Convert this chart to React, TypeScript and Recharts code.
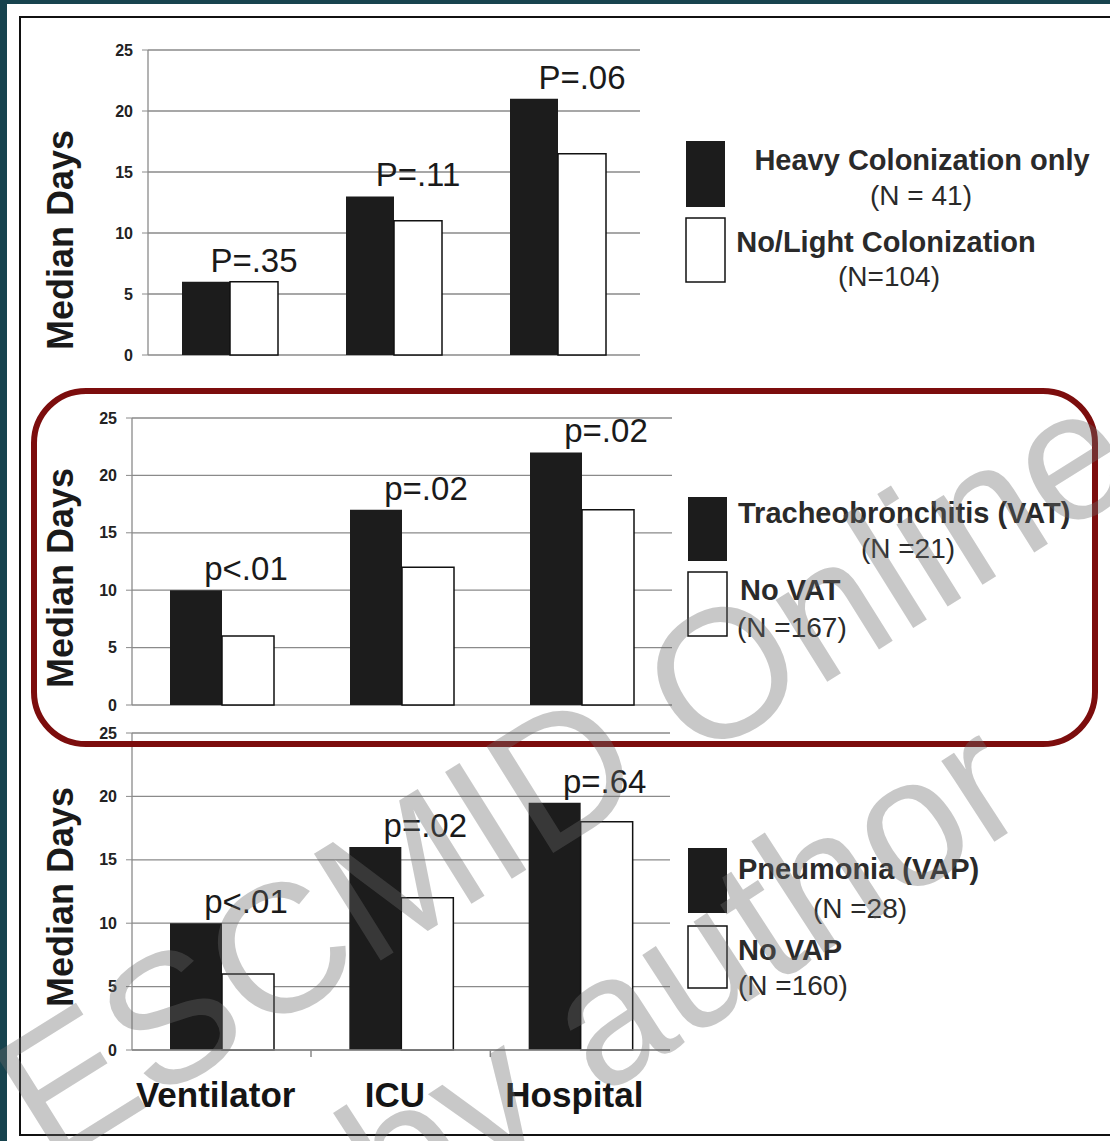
import React from 'react';
import { BarChart, Bar, XAxis, YAxis, CartesianGrid, LabelList } from 'recharts';

const categories = ['Ventilator', 'ICU', 'Hospital'];
const yTicks = [0, 5, 10, 15, 20, 25];

const colonHeavy = [6, 13, 21];
const colonLight = [6, 11, 16.5];
const colonP = ['P=.35', 'P=.11', 'P=.06'];

const vatYes = [10, 17, 22];
const vatNo = [6, 12, 17];
const vatP = ['p<.01', 'p=.02', 'p=.02'];

const vapYes = [10, 16, 19.5];
const vapNo = [6, 12, 18];
const vapP = ['p<.01', 'p=.02', 'p=.64'];

const FONT = "'Liberation Sans', Arial, Helvetica, sans-serif";
const GRID = '#8a8a8a';

const build = (a: number[], b: number[], p: string[]) =>
  categories.map((name, i) => ({ name, a: a[i], b: b[i], p: p[i] }));

const PLabel = (props: any) => {
  const { x, y, width, value } = props;
  return (
    <text
      x={Number(x) + Number(width) + 24}
      y={Number(y) - 10}
      textAnchor="middle"
      fontSize={33}
      fontFamily={FONT}
      fill="#1a1a1a"
    >
      {value}
    </text>
  );
};

const CategoryTick = (props: any) => {
  const { x, y, payload, index } = props;
  return (
    <g>
      {index > 0 && <line x1={x - 90} x2={x - 90} y1={y} y2={y + 7} stroke={GRID} strokeWidth={1.5} />}
      <text x={x - 6} y={y + 57} textAnchor="middle" fontSize={35} fontWeight="bold" fontFamily={FONT} fill="#151515">
        {payload.value}
      </text>
    </g>
  );
};

type PanelProps = {
  top: number;
  height: number;
  margin: { top: number; right: number; bottom: number; left: number };
  axisWidth: number;
  barSize: number;
  data: any[];
  showX?: boolean;
};

const Panel = ({ top, height, margin, axisWidth, barSize, data, showX }: PanelProps) => (
  <div style={{ position: 'absolute', left: 0, top, width: 1110, height }}>
    <BarChart width={1110} height={height} data={data} margin={margin} barGap={0}>
      <CartesianGrid vertical={false} stroke={GRID} strokeWidth={1.3} />
      {showX ? (
        <XAxis
          dataKey="name"
          height={60}
          axisLine={{ stroke: GRID, strokeWidth: 1.5 }}
          tickLine={false}
          tickSize={0}
          tickMargin={0}
          interval={0}
          tick={<CategoryTick />}
        />
      ) : (
        <XAxis dataKey="name" hide />
      )}
      <YAxis
        domain={[0, 25]}
        ticks={yTicks}
        interval={0}
        width={axisWidth}
        axisLine={{ stroke: GRID, strokeWidth: 1.3 }}
        tickLine={{ stroke: GRID }}
        tickSize={6}
        tickMargin={9}
        tick={{ fontSize: 16, fontWeight: 'bold', fontFamily: FONT, fill: '#222' }}
      />
      <Bar dataKey="a" fill="#1c1c1c" barSize={barSize} isAnimationActive={false}>
        <LabelList dataKey="p" content={<PLabel />} />
      </Bar>
      <Bar dataKey="b" fill="#ffffff" stroke="#111" strokeWidth={1.5} barSize={barSize} isAnimationActive={false} />
    </BarChart>
  </div>
);

const legendBold = { fontSize: 29, fontWeight: 'bold' as const, fontFamily: FONT, fill: '#2a2a2a' };
const legendNorm = { fontSize: 28, fontFamily: FONT, fill: '#2a2a2a' };

const YTitle = ({ y }: { y: number }) => (
  <text
    x={73}
    y={y}
    transform={`rotate(-90 73 ${y})`}
    textAnchor="middle"
    fontSize={36}
    fontWeight="bold"
    fontFamily={FONT}
    fill="#1a1a1a"
  >
    Median Days
  </text>
);

const Overlay = () => (
  <svg width={1110} height={1141} style={{ position: 'absolute', left: 0, top: 0, pointerEvents: 'none' }}>
    <YTitle y={240} />
    <YTitle y={578} />
    <YTitle y={897} />

    {/* legend 1 */}
    <rect x={686} y={141} width={39} height={66} fill="#1c1c1c" />
    <rect x={686} y={218} width={39} height={64} fill="#fff" stroke="#111" strokeWidth={1.5} />
    <text x={922} y={170} textAnchor="middle" {...legendBold}>Heavy Colonization only</text>
    <text x={921} y={205} textAnchor="middle" {...legendNorm}>(N = 41)</text>
    <text x={886} y={252} textAnchor="middle" {...legendBold}>No/Light Colonization</text>
    <text x={889} y={286} textAnchor="middle" {...legendNorm}>(N=104)</text>

    {/* legend 2 */}
    <rect x={688} y={497} width={39} height={64} fill="#1c1c1c" />
    <rect x={688} y={572} width={39} height={64} fill="#fff" stroke="#111" strokeWidth={1.5} />
    <text x={738} y={523} {...legendBold}>Tracheobronchitis (VAT)</text>
    <text x={908} y={558} textAnchor="middle" {...legendNorm}>(N =21)</text>
    <text x={740} y={600} {...legendBold}>No VAT</text>
    <text x={737} y={637} {...legendNorm}>(N =167)</text>

    {/* legend 3 */}
    <rect x={688} y={848} width={39} height={65} fill="#1c1c1c" />
    <rect x={688} y={926} width={39} height={62} fill="#fff" stroke="#111" strokeWidth={1.5} />
    <text x={738} y={879} {...legendBold}>Pneumonia (VAP)</text>
    <text x={860} y={918} textAnchor="middle" {...legendNorm}>(N =28)</text>
    <text x={738} y={960} {...legendBold}>No VAP</text>
    <text x={738} y={995} {...legendNorm}>(N =160)</text>

    {/* highlight box */}
    <rect x={34} y={391} width={1061} height={353} rx={52} fill="none" stroke="#7c0d0d" strokeWidth={6} />

    {/* watermark */}
    <g fill="#6a6a6a" fillOpacity={0.37} fontFamily={FONT} fontSize={183}>
      <text x={49} y={1168} transform="rotate(-32 49 1168)">ESCMID Online</text>
      <text x={395} y={1231} transform="rotate(-33 395 1231)">by author</text>
    </g>
  </svg>
);

export default function App() {
  return (
    <div style={{ position: 'absolute', left: 0, top: 0, width: 1110, height: 1141, background: '#17434e', overflow: 'hidden' }}>
      <div style={{ position: 'absolute', left: 7, top: 4, width: 1120, height: 1150, background: '#fff' }} />
      <div
        style={{
          position: 'absolute',
          left: 19,
          top: 16,
          width: 1120,
          height: 1120,
          border: '2.5px solid #111',
          boxSizing: 'border-box',
        }}
      />
      <Panel
        top={0}
        height={380}
        margin={{ top: 50, right: 470, bottom: 25, left: 0 }}
        axisWidth={148}
        barSize={48}
        data={build(colonHeavy, colonLight, colonP)}
      />
      <Panel
        top={380}
        height={360}
        margin={{ top: 38, right: 438, bottom: 35, left: 0 }}
        axisWidth={132}
        barSize={52}
        data={build(vatYes, vatNo, vatP)}
      />
      <Panel
        top={700}
        height={441}
        margin={{ top: 33, right: 440, bottom: 31, left: 0 }}
        axisWidth={132}
        barSize={52}
        data={build(vapYes, vapNo, vapP)}
        showX
      />
      <Overlay />
    </div>
  );
}
